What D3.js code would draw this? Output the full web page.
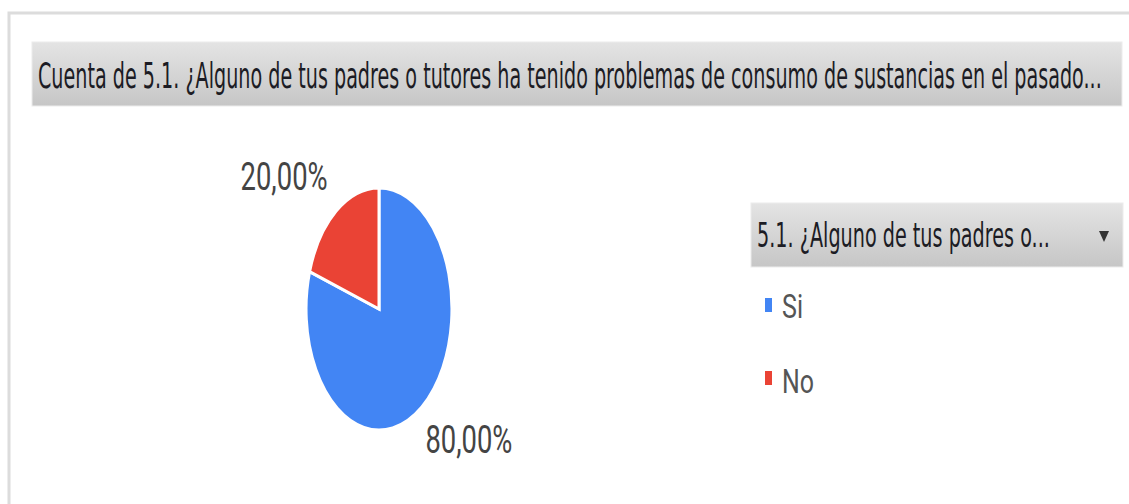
<!DOCTYPE html>
<html>
<head>
<meta charset="utf-8">
<script src="https://cdn.jsdelivr.net/npm/d3@7"></script>
<style>
  body { margin: 0; background: #fff; }
</style>
</head>
<body>
<svg width="1129" height="504"></svg>
<script>
// data
const categories = ['Si', 'No'];
const values = [80, 20];
const sliceLabels = ['80,00%', '20,00%'];
const colors = ['#4285f4', '#ea4335'];
const chartTitle = 'Cuenta de 5.1. ¿Alguno de tus padres o tutores ha tenido problemas de consumo de sustancias en el pasado...';
const legendTitle = '5.1. ¿Alguno de tus padres o...';

const svg = d3.select('svg');

// the source picture is squished horizontally, so texts are squeezed to fit
function squeezeText(x, y, str, font, size, color, width) {
  const t = svg.append('text')
    .attr('x', 0).attr('y', 0)
    .attr('font-family', font)
    .attr('font-size', size)
    .attr('fill', color)
    .text(str);
  const k = width / t.node().getComputedTextLength();
  t.attr('transform', `translate(${x},${y}) scale(${k},1)`);
  return t;
}

// outer frame (top + left edge)
svg.append('path')
  .attr('d', 'M9,504 V13 H1129')
  .attr('fill', 'none')
  .attr('stroke', '#dcdcdc')
  .attr('stroke-width', 3);

const defs = svg.append('defs');
const grad = defs.append('linearGradient')
  .attr('id', 'barGrad')
  .attr('x1', 0).attr('y1', 0).attr('x2', 0).attr('y2', 1);
grad.append('stop').attr('offset', '0%').attr('stop-color', '#e4e4e4');
grad.append('stop').attr('offset', '100%').attr('stop-color', '#c6c6c6');

// title bar
svg.append('rect')
  .attr('x', 32).attr('y', 42)
  .attr('width', 1090).attr('height', 64)
  .attr('fill', 'url(#barGrad)')
  .attr('stroke', '#ececec');
squeezeText(38, 88, chartTitle, 'DejaVu Sans', 36, '#1c1c24', 1064);

// pie (drawn as a circle, then squished horizontally like the source)
const cx = 379, cy = 309, r = 121, sx = 0.603;
const pie = d3.pie().sort(null).value((d) => d);
const arcs = pie(values);
const arc = d3.arc().innerRadius(0).outerRadius(r);

const g = svg.append('g')
  .attr('transform', `translate(${cx},${cy}) scale(${sx},1)`);
g.selectAll('path')
  .data(arcs)
  .enter()
  .append('path')
  .attr('d', arc)
  .attr('fill', (d, i) => colors[i])
  .attr('stroke', '#fff')
  .attr('stroke-width', 3)
  .attr('vector-effect', 'non-scaling-stroke');

// slice labels
const labelR = 145;
arcs.forEach((d, i) => {
  const a = (d.startAngle + d.endAngle) / 2;
  const px = cx + sx * labelR * Math.sin(a);
  const py = cy - labelR * Math.cos(a);
  const top = Math.cos(a) > 0;
  squeezeText(
    Math.sin(a) < 0 ? px - 87 : px - 5,
    top ? py - 2 : py + 27,
    sliceLabels[i], 'Roboto', 38, '#444', 87,
  );
});

// legend header
svg.append('rect')
  .attr('x', 751).attr('y', 203)
  .attr('width', 372).attr('height', 64)
  .attr('fill', 'url(#barGrad)')
  .attr('stroke', '#ececec');
squeezeText(757, 247, legendTitle, 'DejaVu Sans', 33, '#1c1c24', 293);
svg.append('path')
  .attr('d', 'M1099,231 L1109,231 L1104,242 Z')
  .attr('fill', '#333');

// legend items
const legendY = d3.scaleBand().domain(categories).range([280, 420]);
const textW = { Si: 21, No: 32 };
categories.forEach((c, i) => {
  const y0 = legendY(c);
  svg.append('rect')
    .attr('x', 765)
    .attr('y', y0 + 18 + i * 3)
    .attr('width', 7)
    .attr('height', 14)
    .attr('fill', colors[i]);
  squeezeText(782, y0 + 38 + i * 5, c, 'Roboto', 33, '#555', textW[c]);
});
</script>
</body>
</html>
